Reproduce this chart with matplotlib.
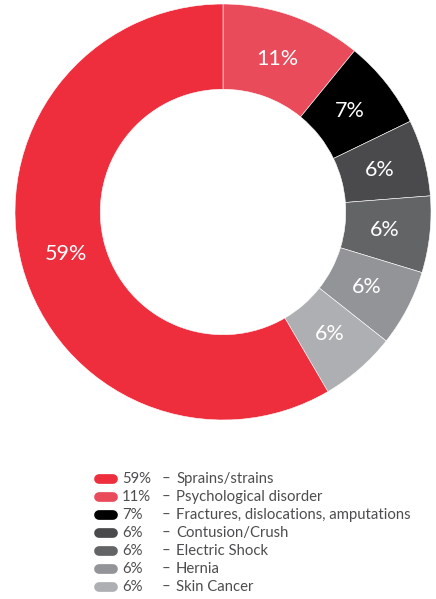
import matplotlib
matplotlib.use("Agg")
import matplotlib.pyplot as plt
from matplotlib.lines import Line2D

# legend order
categories = ["Sprains/strains", "Psychological disorder", "Fractures, dislocations, amputations",
              "Contusion/Crush", "Electric Shock", "Hernia", "Skin Cancer"]
values = [59, 11, 7, 6, 6, 6, 6]
colors = ["#EE2E3D", "#E94B5B", "#000000", "#4A4A4C", "#636466", "#939497", "#AEAFB2"]

# clockwise from 12 o'clock the big slice comes last
order = [1, 2, 3, 4, 5, 6, 0]

plt.rcParams["font.family"] = ["Lato", "DejaVu Sans"]

W, H = 436, 599
fig = plt.figure(figsize=(W / 100, H / 100), dpi=100)
cx, cy, R = 223, 212, 208
ax = fig.add_axes([(cx - R) / W, (H - cy - R) / H, 2 * R / W, 2 * R / H])

wedges, texts = ax.pie(
    [values[i] for i in order],
    colors=[colors[i] for i in order],
    labels=[f"{values[i]}%" for i in order],
    labeldistance=0.78,
    startangle=90,
    counterclock=False,
    radius=1.0,
    wedgeprops=dict(width=0.41, edgecolor="white", linewidth=0.4),
)
for t in texts:
    t.set_color("white")
    t.set_fontsize(15.5)
    t.set_ha("center")
    t.set_va("center")
ax.set_xlim(-1, 1)
ax.set_ylim(-1, 1)
ax.set_aspect("equal")
ax.axis("off")

# legend drawn by hand
y0, dy = 479, 18
for k, (cat, v, c) in enumerate(zip(categories, values, colors)):
    y = 1 - (y0 + k * dy) / H
    fig.add_artist(Line2D([99 / W, 113 / W], [y, y], color=c, lw=7,
                          solid_capstyle="round", transform=fig.transFigure))
    fig.text(122 / W, y, f"{v}%", fontsize=10.7, color="#4D4D4F", va="center", ha="left")
    fig.text(162 / W, y, "–", fontsize=10.7, color="#4D4D4F", va="center", ha="left")
    fig.text(176 / W, y, cat, fontsize=10.7, color="#4D4D4F", va="center", ha="left")

fig.savefig("out.png", dpi=100)
